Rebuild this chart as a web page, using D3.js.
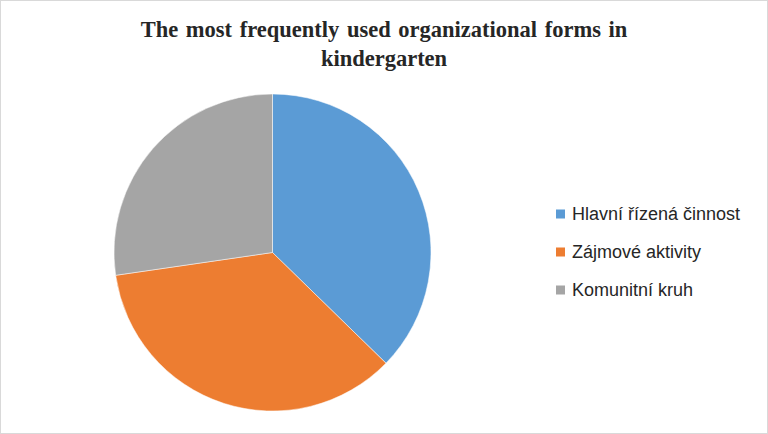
<!DOCTYPE html>
<html><head><meta charset="utf-8">
<script src="https://cdn.jsdelivr.net/npm/d3@7"></script>
<style>html,body{margin:0;padding:0;background:#fff;}svg{display:block;}</style>
</head><body>
<script>
const categories = ["Hlavní řízená činnost", "Zájmové aktivity", "Komunitní kruh"];
const values = [37.3, 35.4, 27.3];
const colors = ["#5B9BD5", "#ED7D31", "#A5A5A5"];
const titleLines = ["The most frequently used organizational forms in", "kindergarten"];

const W = 768, H = 434;
const svg = d3.select("body").append("svg").attr("width", W).attr("height", H);
svg.append("rect").attr("x", 0.5).attr("y", 0.5).attr("width", W - 1).attr("height", H - 1)
  .attr("fill", "#fff").attr("stroke", "#D9D9D9");

svg.append("g").selectAll("text").data(titleLines).join("text")
  .attr("x", 384).attr("y", (d, i) => 36.5 + i * 29.5)
  .attr("text-anchor", "middle")
  .attr("font-family", "Liberation Serif, Times New Roman, serif")
  .attr("font-weight", "bold").attr("font-size", 22.5).attr("fill", "#262626")
  .attr("word-spacing", 2)
  .text(d => d);

const pie = d3.pie().sort(null).value(d => d);
const arc = d3.arc().innerRadius(0).outerRadius(158.5);
svg.append("g").attr("transform", "translate(272.5,252.5)")
  .selectAll("path").data(pie(values)).join("path")
  .attr("d", arc).attr("fill", (d, i) => colors[i])
  .attr("stroke", "#fff").attr("stroke-width", 0.5);

const leg = svg.append("g").selectAll("g").data(categories).join("g")
  .attr("transform", (d, i) => `translate(556,${214 + i * 38})`);
leg.append("rect").attr("x", 0).attr("y", -4.5).attr("width", 9).attr("height", 9)
  .attr("fill", (d, i) => colors[i]);
leg.append("text").attr("x", 16).attr("y", 0).attr("dy", "0.35em")
  .attr("font-family", "Liberation Sans, Arial, sans-serif").attr("font-size", 18)
  .attr("fill", "#262626").text(d => d);
</script>
</body></html>
